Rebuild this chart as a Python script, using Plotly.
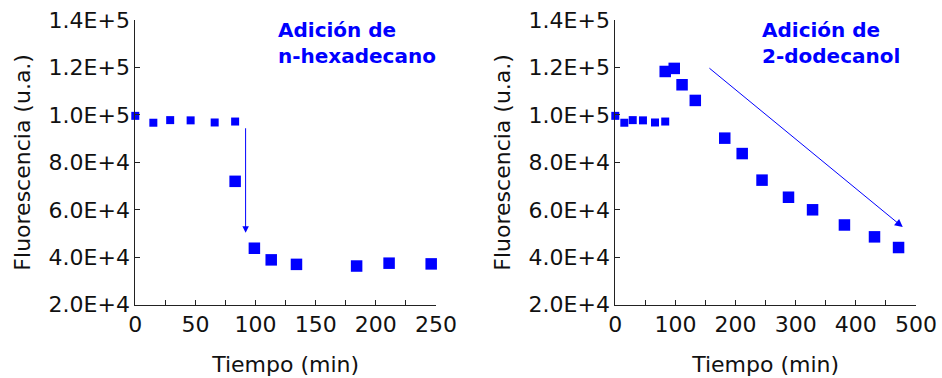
import plotly.graph_objects as go

# ---- data ----
time_hex = [0, 15, 29, 46, 66, 83, 83, 99, 113, 134, 184, 211, 246]
fluor_hex = [99600, 96700, 97800, 97700, 96800, 97200, 72000, 43800, 38900, 37000, 36300, 37500, 37200]

time_dod = [0, 15, 29, 46, 66, 83, 83, 98, 111, 133, 182, 211, 244, 288, 328, 381, 431, 471]
fluor_dod = [99600, 96700, 97800, 97700, 96800, 97200, 118300, 119600, 112700, 106100,
             90200, 83700, 72500, 65300, 60000, 53600, 48600, 44100]

n_before = 6  # points measured before the addition

ytick_vals = [20000, 40000, 60000, 80000, 100000, 120000, 140000]
ytick_text = ["2.0E+4", "4.0E+4", "6.0E+4", "8.0E+4", "1.0E+5", "1.2E+5", "1.4E+5"]

label_hex = "Adición de<br>n-hexadecano"
label_dod = "Adición de<br>2-dodecanol"

arrow_hex = dict(x0=91.7, y0=95000, x1=91.7, y1=50300)
arrow_dod = dict(x0=154, y0=120200, x1=478, y1=52700)

BLUE = "#0000FF"
FONT = "DejaVu Sans"

def sizes(n):
    return [8 if i < n_before else 11.5 for i in range(n)]

fig = go.Figure()
fig.add_trace(go.Scatter(x=time_hex, y=fluor_hex, mode="markers", xaxis="x", yaxis="y",
                         marker=dict(symbol="square", color=BLUE, opacity=1, size=sizes(len(time_hex)), line=dict(width=0)),
                         cliponaxis=False, showlegend=False))
fig.add_trace(go.Scatter(x=time_dod, y=fluor_dod, mode="markers", xaxis="x2", yaxis="y2",
                         marker=dict(symbol="square", color=BLUE, opacity=1, size=sizes(len(time_dod)), line=dict(width=0)),
                         cliponaxis=False, showlegend=False))

W, H = 942, 378
y_dom = [(H - 304.7) / H, (H - 20) / H]

axis_common = dict(showline=True, linecolor="#222222", linewidth=1, ticks="inside", ticklen=5,
                   tickcolor="#222222", tickwidth=1, showgrid=False, zeroline=False, mirror=False,
                   automargin=False,
                   tickfont=dict(family=FONT, size=22, color="#111111"),
                   title_font=dict(family=FONT, size=22, color="#111111"))

fig.update_layout(
    width=W, height=H, margin=dict(l=0, r=0, t=0, b=0),
    paper_bgcolor="white", plot_bgcolor="white",
    xaxis=dict(domain=[135.3 / W, 436 / W], range=[0, 250], tickvals=[0, 50, 100, 150, 200, 250],
               minor=dict(ticks="inside", ticklen=5, tickcolor="#222222", dtick=25, tick0=0),
               title=dict(text="Tiempo (min)", standoff=20), anchor="y", **axis_common),
    yaxis=dict(domain=y_dom, range=[20000, 140000], tickvals=ytick_vals, ticktext=ytick_text,
               title=dict(text="Fluorescencia (u.a.)", standoff=11), anchor="x", **axis_common),
    xaxis2=dict(domain=[615.3 / W, 916 / W], range=[0, 500], tickvals=[0, 100, 200, 300, 400, 500],
                minor=dict(ticks="inside", ticklen=5, tickcolor="#222222", dtick=50, tick0=0),
                title=dict(text="Tiempo (min)", standoff=20), anchor="y2", **axis_common),
    yaxis2=dict(domain=y_dom, range=[20000, 140000], tickvals=ytick_vals, ticktext=ytick_text,
                title=dict(text="Fluorescencia (u.a.)", standoff=11), anchor="x2", **axis_common),
)

ann_font = dict(family=FONT, size=20, color=BLUE)
fig.add_annotation(text="<b>" + label_hex + "</b>", xref="paper", yref="paper",
                   x=276 / W, y=1 - 43 / H, xanchor="left", yanchor="middle", align="left",
                   showarrow=False, font=ann_font)
fig.add_annotation(text="<b>" + label_dod + "</b>", xref="paper", yref="paper",
                   x=760 / W, y=1 - 43 / H, xanchor="left", yanchor="middle", align="left",
                   showarrow=False, font=ann_font)

fig.add_annotation(x=arrow_hex["x1"], y=arrow_hex["y1"], ax=arrow_hex["x0"], ay=arrow_hex["y0"],
                   xref="x", yref="y", axref="x", ayref="y", text="", showarrow=True,
                   arrowhead=2, arrowsize=1.3, arrowwidth=1, arrowcolor=BLUE)
fig.add_annotation(x=arrow_dod["x1"], y=arrow_dod["y1"], ax=arrow_dod["x0"], ay=arrow_dod["y0"],
                   xref="x2", yref="y2", axref="x2", ayref="y2", text="", showarrow=True,
                   arrowhead=2, arrowsize=1.6, arrowwidth=1, arrowcolor=BLUE)

fig.write_html("out.html", config={"displayModeBar": False},
               post_script="document.body.style.margin='0px';")
